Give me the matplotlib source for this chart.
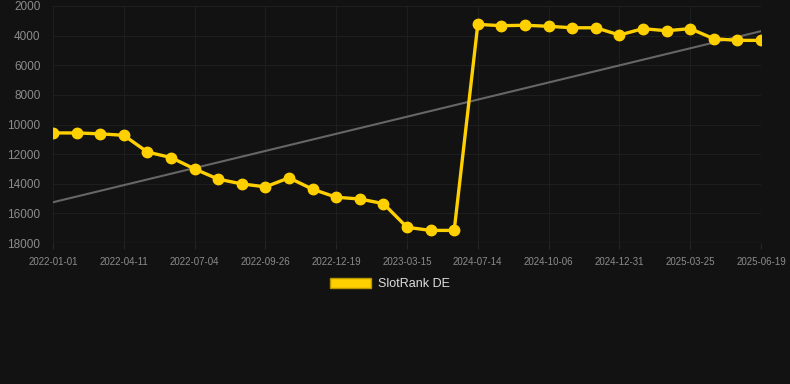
import numpy as np
import matplotlib
matplotlib.use('Agg')
import matplotlib.pyplot as plt
from matplotlib.patches import Patch

# categories (every 3rd one carries a label on the axis)
dates = ['2022-01-01', '2022-02-03', '2022-03-08', '2022-04-11', '2022-05-09', '2022-06-06',
         '2022-07-04', '2022-08-01', '2022-08-29', '2022-09-26', '2022-10-24', '2022-11-21',
         '2022-12-19', '2023-01-16', '2023-02-13', '2023-03-15', '2023-05-01', '2024-06-16',
         '2024-07-14', '2024-08-11', '2024-09-08', '2024-10-06', '2024-11-03', '2024-12-01',
         '2024-12-31', '2025-01-28', '2025-02-25', '2025-03-25', '2025-04-22', '2025-05-20',
         '2025-06-19']
rank = [10570, 10570, 10630, 10730, 11860, 12230, 13000, 13690, 14010, 14210, 13600, 14370,
        14910, 15030, 15340, 16940, 17150, 17150,
        3240, 3330, 3300, 3370, 3470, 3470, 3960, 3530, 3670, 3530, 4210, 4320, 4320]
label = 'SlotRank DE'

bg = '#121212'
gold = '#ffd000'

fig = plt.figure(figsize=(7.9, 3.84), dpi=100, facecolor=bg)
ax = fig.add_axes([53/790, 1-243/384, (761-53)/790, (243-6)/384])
ax.set_facecolor(bg)

x = np.arange(len(dates))
# linear trend of the series
k, b = np.polyfit(x, rank, 1)
ax.plot(x, k*x+b, color='#666666', lw=1.5, zorder=2)
ax.plot(x, rank, color=gold, lw=2.4, marker='o', ms=7.5, zorder=3)

ax.set_xlim(0, len(dates)-1)
ax.set_ylim(18000, 2000)
ax.set_yticks(np.arange(2000, 18001, 2000))
ax.set_xticks(x[::3])
ax.set_xticklabels(dates[::3])
ax.grid(True, color='#1e1e1e', lw=0.8)
for s in ax.spines.values():
    s.set_visible(False)
ax.axhline(18000, color='#2a2a2a', lw=1)
ax.tick_params(axis='y', length=0, pad=9, labelsize=8.5, labelcolor='#8c8c8c')
ax.tick_params(axis='x', length=4, color='#262626', pad=6, labelsize=7, labelcolor='#8c8c8c')
for t in ax.get_xticklabels() + ax.get_yticklabels():
    t.set_fontfamily('Liberation Sans')

leg = fig.legend(handles=[Patch(facecolor=gold, edgecolor='#b89600', label=label)],
                 loc='center', bbox_to_anchor=(390/790, 1-284/384), frameon=False,
                 handlelength=3.3, handleheight=0.9, handletextpad=0.6,
                 prop={'family': 'Liberation Sans', 'size': 9})
for t in leg.get_texts():
    t.set_color('#dddddd')

fig.savefig('out.png', dpi=100, facecolor=bg)
